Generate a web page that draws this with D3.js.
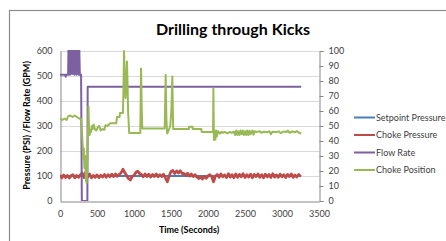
<!DOCTYPE html>
<html><head><meta charset="utf-8">
<script src="https://cdn.jsdelivr.net/npm/d3@7"></script>
<style>
html,body{margin:0;padding:0;background:#fff;}
svg{display:block;font-family:Lato,"Open Sans",sans-serif;}
</style></head>
<body>
<svg id="c" width="446" height="241"></svg>
<script>
const title = "Drilling through Kicks";
const xTitle = "Time (Seconds)";
const yTitle = "Pressure (PSI) /Flow Rate (GPM)";
const seriesNames = ["Setpoint Pressure","Choke Pressure","Flow Rate","Choke Position"];
const seriesColors = ["#4a7ebb","#be4b48","#7d60a0","#98b954"];
const xTicks = [0,500,1000,1500,2000,2500,3000,3500];
const yLeftTicks = [0,100,200,300,400,500,600];
const yRightTicks = [0,10,20,30,40,50,60,70,80,90,100];

// Setpoint pressure [time, psi]
const setpoint = [[0,100],[3260,100]];

// Choke pressure sampled every redStep seconds from t=0
const redStep = 25;
const chokePressure = [
 103,93,104,94,102,92,101,105,93,102,95,104,
 112,94,117,96,108,93,102,
 95,104,94,103,96,106,95,105,97,107,98,108,99,106,
 112,127,114,102,
 90,84,98,102,
 114,119,110,
 106,97,108,98,107,96,106,98,108,97,105,98,107,
 92,77,100,
 118,122,110,120,112,121,110,
 110,102,111,100,108,98,105,96,
 90,97,88,98,91,100,105,98,
 77,100,
 106,95,108,97,104,94,109,96,105,93,108,95,106,97,109,94,105,96,107,93,106,98,108,95,105,93,107,97,106,94,109,96,104,95,107,97,105,94,106,98,108,95,104,96,106,99
];

// Flow rate [time, gpm]
const flowRate = [[0,505],[70,505],[77,497],[84,505],[110,505],[115,620],[120,510],[125,620],[135,505],[140,620],[150,510],[155,620],[165,508],[170,620],[180,510],[185,620],[195,505],[200,620],[210,510],[215,620],[225,505],[230,620],[240,510],[245,620],[255,505],[260,620],[268,505],[285,505],[295,0],[370,0],[374,457],[3260,457]];

// Choke position [time, %]
const chokePosition = [[0,55],[30,54],[60,55],[90,54],[110,56.5],[140,57],[170,56],[200,57],[230,56],[260,55],[285,54.5],[295,48],[305,38],[315,28],[322,35],[330,22],[340,30],[350,14],[360,12],[368,25],[378,45],[385,63],[392,50],[400,44],[410,47],[420,46],[430,50],[440,48],[455,51],[470,48],[490,47],[510,49],[530,50],[550,47],[575,48],[600,47.5],[615,50.5],[640,50],[660,51],[680,51.8],[760,51.8],[770,56],[805,56],[810,58.6],[850,58.6],[858,75],[865,100],[875,85],[885,68.7],[895,75],[905,93],[912,80],[920,60],[935,45.3],[1085,45.3],[1095,88.4],[1105,60],[1112,48.4],[1415,48.4],[1428,84],[1438,55],[1448,45],[1460,46],[1490,50],[1505,60],[1518,83],[1525,60],[1530,48],[1740,48],[1745,49.5],[1790,49.5],[1795,48],[1910,48],[1915,46],[2068,46],[2073,75],[2080,40.7],[2090,47],[2100,41],[2110,47],[2120,43],[2135,46.5],[2160,45],[2180,46],[2200,45.5],[2230,46],[2260,45],[2290,46],[2320,45.5],[2350,46.2],[2365,44],[2380,47],[2395,44],[2410,46.5],[2425,44],[2440,47],[2455,44.5],[2470,47],[2485,44],[2500,46.5],[2515,44],[2530,47],[2545,44],[2560,46.8],[2575,44.5],[2600,47],[2615,44.2],[2630,46.5],[2660,46],[2700,46.5],[2720,45.5],[2760,46.2],[2800,45.8],[2830,46.5],[2850,44.5],[2870,46.2],[2920,46],[2960,46.4],[2980,45.2],[3020,46.3],[3060,46],[3080,47],[3100,45.5],[3140,46.3],[3180,45.8],[3200,46.6],[3230,45.5],[3260,45]];

const svg = d3.select("#c");
const P = {l:60, r:319, t:51, b:201};
const x = d3.scaleLinear().domain([0,3500]).range([P.l,P.r]);
const yL = d3.scaleLinear().domain([0,600]).range([P.b,P.t]);
const yR = d3.scaleLinear().domain([0,100]).range([P.b,P.t]);
const txtCol = "#404040";

// outer chart border
svg.append("rect").attr("x",9.5).attr("y",10.5).attr("width",460).attr("height",260)
  .attr("fill","none").attr("stroke","#8c8c8c").attr("stroke-width",1.2);

// gridlines
svg.append("g").selectAll("line").data(yLeftTicks.filter(d=>d>0)).join("line")
  .attr("x1",P.l).attr("x2",P.r).attr("y1",d=>Math.round(yL(d))+0.5).attr("y2",d=>Math.round(yL(d))+0.5)
  .attr("stroke","#d9d9d9").attr("stroke-width",1);

// axes
const gx = svg.append("g").attr("transform",`translate(0,${P.b+0.5})`)
  .call(d3.axisBottom(x).tickValues(xTicks).tickFormat(d3.format("d")).tickSize(0).tickPadding(9));
const gl = svg.append("g").attr("transform",`translate(${P.l+0.5},0)`)
  .call(d3.axisLeft(yL).tickValues(yLeftTicks).tickSize(0).tickPadding(8));
const gr = svg.append("g").attr("transform",`translate(${P.r+0.5},0)`)
  .call(d3.axisRight(yR).tickValues(yRightTicks).tickSize(4).tickPadding(5));
[gx,gl,gr].forEach(g=>{
  g.select(".domain").attr("stroke","#868686");
  g.selectAll(".tick line").attr("stroke","#868686");
  g.selectAll("text").attr("fill",txtCol).style("font-size","9px").style("font-family","Lato, 'Open Sans', sans-serif");
});

// clip
svg.append("clipPath").attr("id","clip").append("rect")
  .attr("x",P.l).attr("y",P.t-1).attr("width",P.r-P.l).attr("height",P.b-P.t+1);
const plot = svg.append("g").attr("clip-path","url(#clip)");

const lineL = d3.line().x(d=>x(d[0])).y(d=>yL(d[1]));
const lineR = d3.line().x(d=>x(d[0])).y(d=>yR(d[1]));
const redPts = chokePressure.map((v,i)=>[i*redStep,v]);

plot.append("path").datum(setpoint).attr("d",lineL).attr("fill","none")
  .attr("stroke",seriesColors[0]).attr("stroke-width",2);
plot.append("path").datum(redPts).attr("d",lineL).attr("fill","none")
  .attr("stroke",seriesColors[1]).attr("stroke-width",2.8).attr("stroke-linejoin","round");
plot.append("path").datum(flowRate).attr("d",lineL).attr("fill","none")
  .attr("stroke",seriesColors[2]).attr("stroke-width",2).attr("stroke-linejoin","round");
plot.append("path").datum(chokePosition).attr("d",lineR).attr("fill","none")
  .attr("stroke",seriesColors[3]).attr("stroke-width",2).attr("stroke-linejoin","round");

// title
svg.append("text").attr("x",233).attr("y",35).attr("text-anchor","middle")
  .style("font-size","16px").style("font-weight","bold").attr("fill","#000").text(title);
// x title
svg.append("text").attr("x",189).attr("y",232.5).attr("text-anchor","middle")
  .style("font-size","9px").style("font-weight","bold").attr("fill","#000").text(xTitle);
// y title
svg.append("text").attr("transform","translate(30,125.5) rotate(-90)").attr("text-anchor","middle")
  .style("font-size","9px").style("font-weight","bold").attr("fill","#000").text(yTitle);

// legend
const lg = svg.append("g").selectAll("g").data(seriesNames).join("g")
  .attr("transform",(d,i)=>`translate(354,${117.5+i*17.5})`);
lg.append("line").attr("x1",0).attr("x2",21).attr("y1",0).attr("y2",0)
  .attr("stroke",(d,i)=>seriesColors[i]).attr("stroke-width",2);
lg.append("text").attr("x",22).attr("y",3.2).style("font-size","9px").attr("fill",txtCol).text(d=>d);
</script>
</body></html>
